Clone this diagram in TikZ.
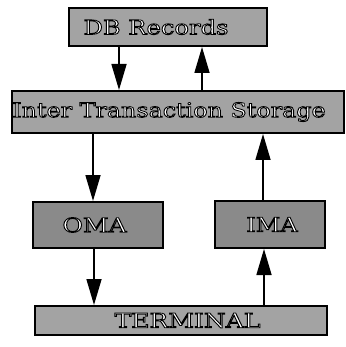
\documentclass[tikz,border=0pt]{standalone}
\usepackage{fontspec}
\setmainfont{DejaVu Serif}
\usetikzlibrary{arrows.meta}
\newcommand\outl[2]{\scalebox{#1}[1]{\color{white}%
  \special{pdf:literal direct 2 Tr 0.8 w 0 G 1 g}#2\special{pdf:literal direct 0 Tr}}}
\begin{document}
\begin{tikzpicture}[x=1pt,y=1pt,
  box/.style={draw=black, line width=2pt, fill=black!36, inner sep=0pt,
    font=\fontsize{20}{22}\selectfont},
  dbox/.style={box, fill=black!46},
  arr/.style={line width=1.6pt, -{Triangle[length=26pt,width=15pt]}}]
\useasboundingbox (0,0) rectangle (345,-347);
\node[box, minimum width=198pt, minimum height=38pt] (db) at (168,-27) {\outl{1.21}{DB Records}\kern24pt};
\node[box, minimum width=331pt, minimum height=42pt] (its) at (178,-112) {\outl{1.19}{Inter Transaction Storage}\kern18pt};
\node[dbox, minimum width=130pt, minimum height=46pt] (oma) at (98,-225) {\outl{1.25}{OMA}\kern7pt};
\node[dbox, minimum width=110pt, minimum height=47pt] (ima) at (270,-224.5) {\kern4pt\outl{1.2}{IMA}};
\node[box, minimum width=292pt, minimum height=29pt] (term) at (181,-320.5) {\kern13pt\outl{1.25}{TERMINAL}};
\coordinate (c1) at (119,0);
\coordinate (c2) at (202,0);
\coordinate (c3) at (93,0);
\coordinate (c4) at (263,0);
\coordinate (c5) at (94,0);
\coordinate (c6) at (264,0);
\draw[arr] (db.south -| c1) -- (its.north -| c1);
\draw[arr] (its.north -| c2) -- (db.south -| c2);
\draw[arr] (its.south -| c3) -- (oma.north -| c3);
\draw[arr] (ima.north -| c4) -- (its.south -| c4);
\draw[arr] (oma.south -| c5) -- (term.north -| c5);
\draw[arr] (term.north -| c6) -- (ima.south -| c6);
\end{tikzpicture}
\end{document}
